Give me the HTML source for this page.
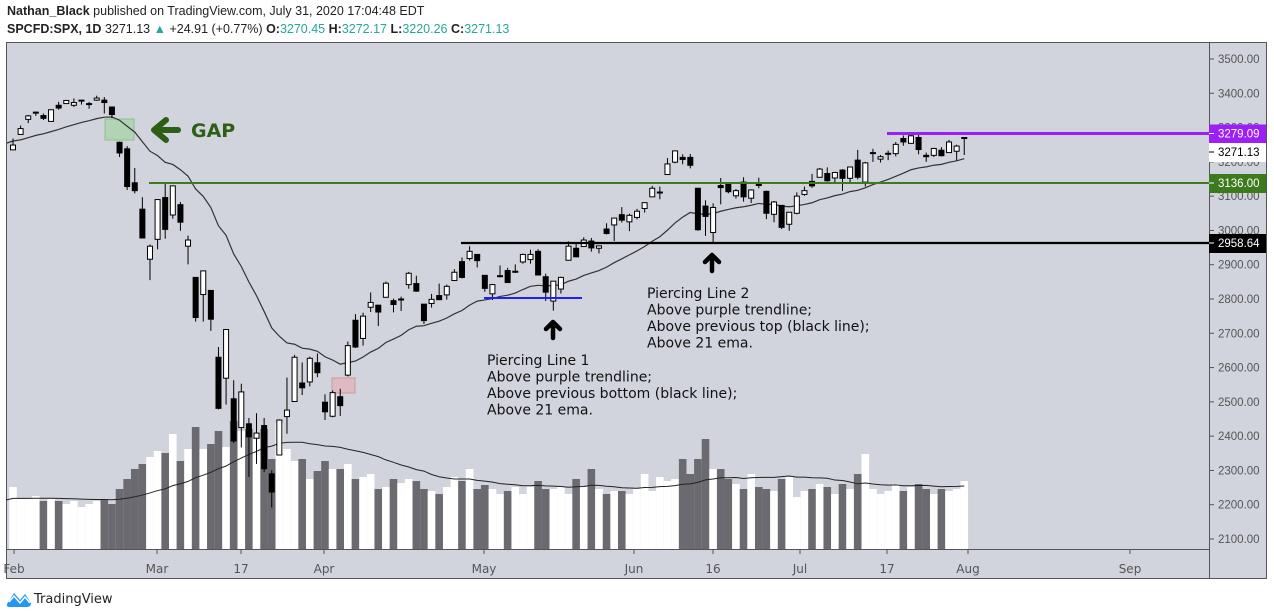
<!DOCTYPE html>
<html><head><meta charset="utf-8"><style>
body{margin:0;background:#fff;width:1274px;height:615px;overflow:hidden;font-family:"Liberation Sans",sans-serif}
.h1{position:absolute;left:7px;top:4px;font-size:12.5px;color:#222}
.h2{position:absolute;left:7px;top:22px;font-size:12.5px;color:#222}
.t{color:#26a69a}
</style></head><body>
<div class="h1"><b>Nathan_Black</b> published on TradingView.com, July 31, 2020 17:04:48 EDT</div>
<div class="h2"><b>SPCFD:SPX, 1D</b> 3271.13 <span class="t">▲</span> +24.91 (+0.77%) <b>O:</b><span class="t">3270.45</span> <b>H:</b><span class="t">3272.17</span> <b>L:</b><span class="t">3220.26</span> <b>C:</b><span class="t">3271.13</span></div>
<svg id="s" width="1274" height="615" style="position:absolute;left:0;top:0" xmlns="http://www.w3.org/2000/svg"></svg>
<script>
const D=`3235 3268 3235 3249,3280 3306 3280 3297,3324 3337 3313 3334,3344 3347 3334 3345,3335 3341 3322 3327,3318 3352 3317 3352,3365 3375 3352 3357,3370 3381 3369 3379,3365 3385 3360 3373,3378 3380 3367 3380,3369 3375 3355 3370,3380 3393 3378 3386,3380 3389 3341 3373,3360 3360 3328 3338,3257 3259 3214 3226,3238 3246 3118 3128,3139 3182 3108 3116,3062 3097 2977 2978,2916 2959 2855 2954,2974 3091 2945 3090,3096 3136 2976 3003,3045 3130 3034 3130,3075 3083 2999 3024,2954 2985 2901 2972,2863 2863 2734 2746,2813 2882 2734 2882,2825 2825 2707 2741,2630 2660 2478 2481,2569 2711 2492 2711,2509 2563 2380 2386,2425 2553 2367 2529,2436 2453 2281 2398,2394 2467 2319 2409,2431 2453 2295 2305,2290 2300 2192 2237,2345 2449 2345 2447,2457 2571 2407 2476,2501 2637 2501 2630,2555 2615 2520 2541,2558 2632 2545 2627,2614 2641 2572 2585,2499 2522 2447 2471,2458 2533 2455 2527,2515 2538 2459 2489,2578 2676 2574 2664,2738 2756 2657 2660,2685 2760 2664 2750,2776 2819 2762 2790,2782 2782 2721 2762,2805 2851 2805 2846,2795 2801 2761 2784,2800 2807 2765 2800,2842 2879 2830 2875,2845 2868 2821 2823,2785 2785 2727 2737,2787 2815 2775 2799,2810 2845 2797 2798,2812 2842 2798 2837,2854 2887 2852 2878,2909 2921 2860 2863,2918 2954 2912 2939,2930 2930 2892 2912,2869 2869 2821 2831,2815 2844 2797 2842,2868 2898 2863 2868,2883 2891 2847 2848,2878 2901 2876 2881,2908 2932 2903 2930,2915 2944 2903 2930,2939 2945 2869 2870,2865 2874 2794 2820,2794 2852 2766 2852,2829 2865 2816 2863,2913 2968 2913 2954,2948 2964 2922 2923,2953 2980 2953 2972,2969 2978 2938 2949,2948 2956 2933 2955,3004 3021 2988 2991,3016 3036 2969 3036,3046 3068 3023 3030,3025 3049 2998 3044,3038 3063 3032 3056,3064 3081 3052 3081,3098 3130 3098 3123,3112 3128 3091 3112,3163 3211 3163 3194,3199 3233 3196 3232,3213 3222 3193 3207,3213 3223 3181 3190,3123 3123 2999 3002,3071 3088 2984 3041,2994 3079 2965 3067,3131 3153 3076 3125,3137 3141 3108 3113,3101 3121 3093 3116,3141 3155 3084 3098,3094 3120 3080 3118,3138 3154 3123 3131,3114 3116 3033 3050,3047 3086 3024 3083,3073 3073 3004 3009,3018 3054 2999 3053,3050 3111 3047 3100,3105 3128 3101 3116,3143 3165 3124 3130,3155 3182 3155 3179,3166 3184 3142 3145,3153 3171 3137 3169,3176 3179 3115 3152,3152 3186 3136 3185,3205 3235 3149 3155,3141 3200 3128 3197,3225 3238 3200 3227,3208 3220 3198 3215,3224 3233 3205 3225,3224 3258 3216 3251,3268 3277 3247 3258,3254 3279 3253 3276,3271 3279 3222 3236,3219 3227 3200 3215,3219 3241 3214 3239,3234 3243 3216 3218,3227 3264 3227 3258,3231 3250 3204 3246,3270 3272 3220 3271`.split(',').map(r=>r.split(' ').map(Number));
const V=[62,50,51,53,48,50,48,45,48,42,45,48,49,45,60,70,80,85,92,98,96,115,88,100,122,100,105,118,102,128,118,120,110,120,90,126,100,88,90,70,78,88,80,80,85,70,72,75,60,62,70,66,70,68,60,58,55,62,72,68,80,60,64,60,55,58,62,55,62,68,60,60,62,55,70,62,80,60,55,58,58,55,60,75,58,72,68,70,90,75,90,110,80,80,70,65,60,75,62,60,58,70,72,52,58,60,65,62,55,65,60,75,95,60,55,58,65,58,62,65,60,55,60,58,60,68];
const y=p=>59+(3500-p)*0.342857, x=i=>13+i*7.61;
let s='';
const R=(a,b,c,d,st)=>s+=`<rect x="${a}" y="${b}" width="${c}" height="${d}" ${st}/>`;
const L=(a,b,c,d,st)=>s+=`<line x1="${a}" y1="${b}" x2="${c}" y2="${d}" ${st}/>`;
const T=(a,b,t,st)=>s+=`<text x="${a}" y="${b}" ${st}>${t}</text>`;
R(6.5,42.5,1260,536,'fill="#d1d4dc" stroke="#555"');
D.forEach((d,i)=>{const h=V[i];R(x(i)-3.8,549-h,7.6,h,`fill="${d[3]>=d[0]?'#ffffff':'#6a6a70'}"`)});
let pv='';V.forEach((v,i)=>{let a=V.slice(Math.max(0,i-19),i+1);let m=a.reduce((p,c)=>p+c,0)/a.length;if(i<20)m=(m*a.length+50*(20-a.length))/20;pv+=`${x(i)},${549-m} `});
s+=`<polyline points="6,500 ${pv}" fill="none" stroke="#222" stroke-width="1"/>`;
R(105,119,29,21,'fill="#a5d6a7" fill-opacity="0.75" stroke="#8fbf91"');
R(332,378,23,15,'fill="#e8a8b0" fill-opacity="0.6" stroke="#c99"');
let e=3262,pe='';D.forEach((d,i)=>{e=e+(d[3]-e)*2/22;pe+=`${x(i)},${y(e)} `});
s+=`<polyline points="7,143 ${pe}" fill="none" stroke="#333" stroke-width="1.2"/>`;
D.forEach((d,i)=>{const X=x(i),up=d[3]>=d[0];L(X,y(d[1]),X,y(d[2]),'stroke="#000" stroke-width="1"');const t=y(Math.max(d[0],d[3])),b=y(Math.min(d[0],d[3]));R(X-2.5,t,5,Math.max(1,b-t),`fill="${up?'#fff':'#000'}" stroke="#000" stroke-width="1"`)});
L(149,183,1209,183,'stroke="#3d7a1e" stroke-width="2"');
L(461,243,1209,243,'stroke="#000" stroke-width="2.2"');
L(887,133.5,1209,133.5,'stroke="#9c1ff5" stroke-width="3"');
L(484,298,582,298,'stroke="#1e1eff" stroke-width="2"');
s+=`<path d="M178,130 L160,130 M166,120 L154,130 L166,140" fill="none" stroke="#2d5e16" stroke-width="6" stroke-linecap="round" stroke-linejoin="round"/>`;
T(191,137,'GAP','font-size="19" font-weight="bold" fill="#2d5e16" font-family="DejaVu Sans"');
const A=(cx,ty)=>s+=`<path d="M${cx},${ty+19} L${cx},${ty+3} M${cx-7},${ty+10} L${cx},${ty+3} L${cx+7},${ty+10}" fill="none" stroke="#000" stroke-width="4.5" stroke-linecap="round" stroke-linejoin="round"/>`;
A(553,319);A(712,252);
const note=(x0,y0,arr)=>arr.forEach((t,k)=>T(x0,y0+k*16.5,t,'font-size="14" fill="#111" font-family="DejaVu Sans"'));
note(487,365,['Piercing Line 1','Above purple trendline;','Above previous bottom (black line);','Above 21 ema.']);
note(647,298,['Piercing Line 2','Above purple trendline;','Above previous top (black line);','Above 21 ema.']);
L(1209.5,42,1209.5,578,'stroke="#555"');L(6,549.5,1209,549.5,'stroke="#555"');
for(let p=2100;p<=3500;p+=100){const Y=y(p);L(1209,Y,1214,Y,'stroke="#555"');T(1218,Y+4,p.toFixed(2),'font-size="11.5" fill="#555" font-family="Liberation Sans"')}
const lab=(t,bg,fg,Y)=>{R(1209,Y-9,57,19,`fill="${bg}"`);L(1209,Y,1214,Y,`stroke="${fg}"`);T(1218,Y+4,t,`font-size="11.5" fill="${fg}" font-family="Liberation Sans"`)};
lab('3279.09','#9c1ff5','#fff',133.5);lab('3271.13','#ffffff','#000',152);lab('3136.00','#3d7a1e','#fff',183);lab('2958.64','#000','#fff',243);
[['Feb',14],['Mar',157],['17',241],['Apr',324],['May',484],['Jun',634],['16',713],['Jul',800],['17',887],['Aug',968],['Sep',1130]].forEach(([t,X])=>{L(X,549,X,554,'stroke="#555"');T(X,573,t,'font-size="12" fill="#555" text-anchor="middle" font-family="DejaVu Sans"')});
s+=`<path d="M7,604 L14,593 L20,600 L25,594 L31,603 Q31,607 27,607 L10,607 Q6,607 7,604Z" fill="#2196f3"/><path d="M9,602 L14,596 L20,603 L25,597 L30,603" fill="none" stroke="#fff" stroke-width="1.5"/>`;
T(34,603,'TradingView','font-size="13" fill="#222" font-family="DejaVu Sans"');
document.getElementById('s').innerHTML=s;
</script>
</body></html>
